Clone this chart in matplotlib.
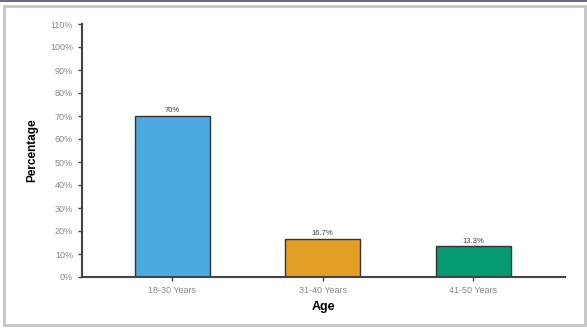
import matplotlib.pyplot as plt
from matplotlib.patches import Rectangle

# age groups and share of respondents (%)
age_groups = ['18-30 Years', '31-40 Years', '41-50 Years']
percentages = [70, 16.7, 13.3]
value_labels = ['70%', '16.7%', '13.3%']
bar_colors = ['#4DAAE0', '#E29E26', '#04996E']

yticks = list(range(0, 111, 10))

plt.rcParams['font.family'] = ['Liberation Sans', 'DejaVu Sans']

fig = plt.figure(figsize=(5.87, 3.28), dpi=100)
fig.patch.set_facecolor('white')

# outer frame
fig.patches.append(Rectangle((0, 1 - 2 / 328), 1, 2 / 328, transform=fig.transFigure,
                             facecolor='#6c6a8a', edgecolor='none'))
fig.patches.append(Rectangle((4 / 587, 3 / 328), 581 / 587, 319 / 328, transform=fig.transFigure,
                             facecolor='none', edgecolor='#c4c4c4', linewidth=2))

ax = fig.add_axes([82 / 587, 51 / 328, 483 / 587, 253 / 328])
x = range(len(age_groups))
bars = ax.bar(x, percentages, width=0.5, color=bar_colors, edgecolor='#333333', linewidth=1)

for rect, lbl in zip(bars, value_labels):
    ax.text(rect.get_x() + rect.get_width() / 2, rect.get_height() + 0.8, lbl,
            ha='center', va='bottom', fontsize=5.5, color='#444444')

ax.set_xlim(-0.6, 2.61)
ax.set_ylim(0, 110)
ax.set_yticks(yticks)
ax.set_yticklabels(['{}%'.format(t) for t in yticks])
ax.set_xticks(list(x))
ax.set_xticklabels(age_groups)

for side in ['top', 'right']:
    ax.spines[side].set_visible(False)
for side in ['left', 'bottom']:
    ax.spines[side].set_color('#444444')
    ax.spines[side].set_linewidth(1.5)

ax.tick_params(axis='both', labelsize=6.5, colors='#444444', labelcolor='#888888',
               length=3, width=1)

ax.set_ylabel('Percentage', fontsize=8.5, fontweight='bold', labelpad=8)
ax.set_xlabel('Age', fontsize=9, fontweight='bold', labelpad=4)

fig.savefig('out.png', dpi=100)
